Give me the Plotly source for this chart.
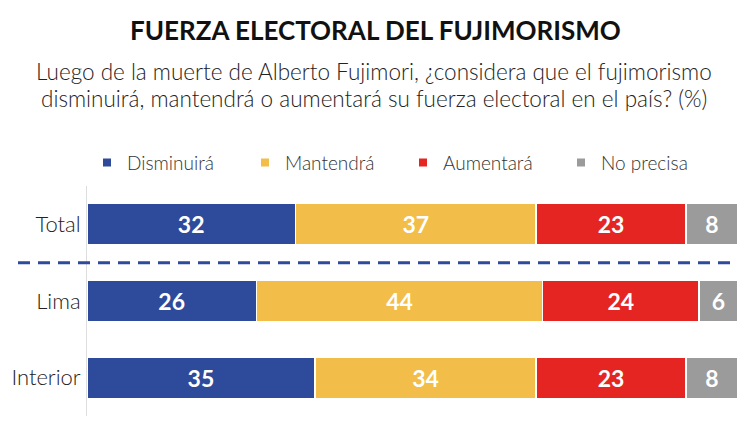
import plotly.graph_objects as go

categories = ["Total", "Lima", "Interior"]
series_names = ["Disminuirá", "Mantendrá", "Aumentará", "No precisa"]
disminuira = [32, 26, 35]
mantendra = [37, 44, 34]
aumentara = [23, 24, 23]
no_precisa = [8, 6, 8]
colors = ["#2E4A9A", "#F2BD48", "#E42522", "#9B9B9B"]

FONT = "Lato"
values = [disminuira, mantendra, aumentara, no_precisa]

# the page has an 8px body margin; layout numbers below are in figure pixels
L, R, T, B = 79, 22, 177.5, 16.5
PW = 752 - L - R
PH = 425 - T - B

def px_x(x):
    return (x - L) / PW

def px_y(y):
    return 1 + (T - y) / PH

fig = go.Figure()
for name, vals, col in zip(series_names, values, colors):
    fig.add_trace(go.Bar(
        y=categories, x=vals, orientation="h", name=name,
        marker=dict(color=col, line=dict(color="white", width=1.5)),
        text=[str(v) for v in vals], textposition="inside",
        insidetextanchor="middle",
        textfont=dict(family=FONT, size=23, color="white", weight="bold"),
        width=0.545, showlegend=False, hoverinfo="skip",
    ))
    fig.add_trace(go.Scatter(
        x=[None], y=[None], mode="markers", name=name,
        marker=dict(symbol="square", size=8, color=col),
        showlegend=True,
    ))

fig.add_shape(type="line", xref="paper", yref="y", x0=px_x(10), x1=1.0,
              y0=0.5, y1=0.5, line=dict(color="#2E4A9A", width=3, dash="12px,8px"))

fig.add_annotation(text="<b>FUERZA ELECTORAL DEL FUJIMORISMO</b>", xref="paper", yref="paper",
                   x=px_x(367), y=px_y(21), xanchor="center", yanchor="middle",
                   showarrow=False, font=dict(family=FONT, size=26, color="#111111"))
sub_lines = ["Luego de la muerte de Alberto Fujimori, ¿considera que el fujimorismo",
             "disminuirá, mantendrá o aumentará su fuerza electoral en el país? (%)"]
for i, line in enumerate(sub_lines):
    fig.add_annotation(text=line, xref="paper", yref="paper", x=px_x(366), y=px_y(62 + 28 * i),
                       xanchor="center", yanchor="middle", showarrow=False, borderpad=0,
                       font=dict(family=FONT, size=22.5, color="#222222", weight=300))

fig.update_layout(
    width=752, height=425,
    margin=dict(l=L, r=R, t=T, b=B, autoexpand=False),
    plot_bgcolor="white", paper_bgcolor="white",
    barmode="stack", bargap=0.455,
    font=dict(family=FONT, color="#222222"),
    legend=dict(orientation="h", x=px_x(79), y=px_y(154), xanchor="left", yanchor="middle",
                traceorder="normal",
                font=dict(family=FONT, size=19, color="#333333", weight=300),
                entrywidth=113, entrywidthmode="pixels", itemclick=False),
    xaxis=dict(range=[0, 100], visible=False, fixedrange=True),
    yaxis=dict(autorange="reversed", showline=True, linecolor="#dddddd", linewidth=1,
               ticks="", showgrid=False, automargin=False,
               tickfont=dict(family=FONT, size=22, color="#222222", weight=300),
               ticklabelstandoff=1, fixedrange=True),
)
fig.write_html("out.html")
